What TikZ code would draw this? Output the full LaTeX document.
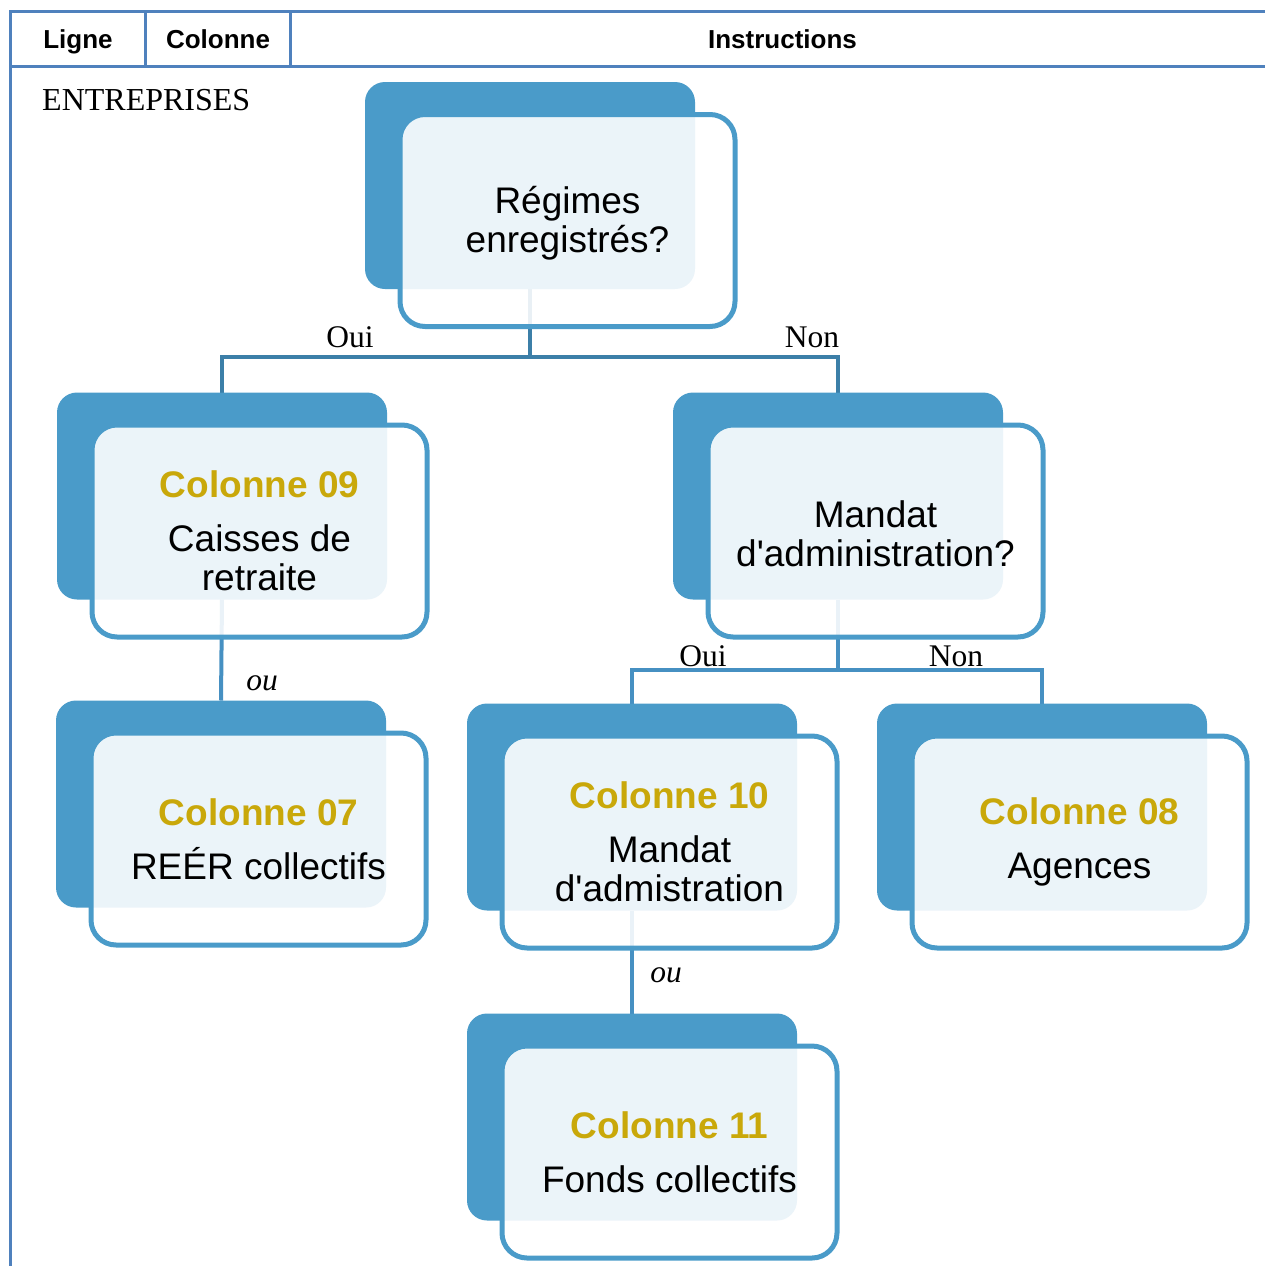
\documentclass[tikz,border=0pt]{standalone}
\usepackage{fontspec}
\setmainfont{Liberation Serif}
\setsansfont{Liberation Sans}
\usetikzlibrary{calc}
\definecolor{tbl}{HTML}{4F81BD}
\definecolor{dk}{HTML}{4A9BC9}
\definecolor{cA}{HTML}{3C7FA8}
\definecolor{cB}{HTML}{4690C2}
\definecolor{gold}{HTML}{C9A80A}
\pgfdeclarelayer{back}
\pgfsetlayers{back,main}
\tikzset{
  tblline/.style={draw=tbl, line width=3pt},
  hdr/.style={anchor=base, inner sep=0pt, font=\sffamily\bfseries\fontsize{26}{30}\selectfont},
  lbl/.style={anchor=base, inner sep=0pt, font=\fontsize{31.5}{36}\selectfont},
  darkbox/.style={rectangle, minimum width=330pt, minimum height=207pt, inner sep=0pt, outer sep=0pt, fill=dk, rounded corners=20pt},
  litebox/.style={rectangle, minimum width=335pt, minimum height=212pt, inner sep=0pt, outer sep=0pt,
    fill=white, fill opacity=0.89, text opacity=1, draw=dk, draw opacity=1, line width=5pt,
    rounded corners=25pt, align=center, font=\sffamily\fontsize{37}{39}\selectfont},
  connA/.style={draw=cA, line width=4pt},
  connB/.style={draw=cB, line width=4pt},
}
\newcommand\ttl[1]{\textcolor{gold}{\textbf{#1}}\\[15pt]}
\newcommand\apos{\textquotesingle}
\begin{document}
\begin{tikzpicture}[x=1pt,y=-1pt]
\useasboundingbox (0,0) rectangle (1265,1266);
% table frame
\draw[tblline] (10.5,10) -- (10.5,1266);
\draw[tblline] (9,11.5) -- (1265,11.5);
\draw[tblline] (9,66.5) -- (1265,66.5);
\draw[tblline] (145.7,11.5) -- (145.7,66.5);
\draw[tblline] (290.2,11.5) -- (290.2,66.5);
\node[hdr] (hL) at (78,48) {Ligne};
\node[hdr] (hC) at (218,48) {Colonne};
\node[hdr] (hI) at (782.5,48) {Instructions};
\node[anchor=base west, inner sep=0pt, font=\fontsize{32}{36}\selectfont] (ent) at (42,110) {ENTREPRISES};

% boxes
\node[darkbox] (R) at (530,185.5) {};
\node[litebox] (Rw) at ($(R)+(37.5,35)$) {\rule{0pt}{33pt}Régimes\\enregistrés?};

\node[darkbox] (C09) at (222,496) {};
\node[litebox] (C09w) at ($(C09)+(37.5,35)$) {\ttl{Colonne 09}Caisses de\\retraite};

\node[darkbox] (MA) at (838,496) {};
\node[litebox] (MAw) at ($(MA)+(37.5,35)$) {\rule{0pt}{33pt}Mandat\\d\apos administration?};

\node[darkbox] (C07) at (221,804) {};
\node[litebox] (C07w) at ($(C07)+(37.5,35)$) {\ttl{Colonne 07}REÉR collectifs};

\node[darkbox] (C10) at (632,807) {};
\node[litebox] (C10w) at ($(C10)+(37.5,35)$) {\ttl{Colonne 10}Mandat\\d\apos admistration};

\node[darkbox] (C08) at (1042,807) {};
\node[litebox] (C08w) at ($(C08)+(37.5,35)$) {\ttl{Colonne 08}Agences};

\node[darkbox] (C11) at (632,1117) {};
\node[litebox] (C11w) at ($(C11)+(37.5,35)$) {\ttl{Colonne 11}Fonds collectifs};

% connectors
\begin{pgfonlayer}{back}
\draw[connA] (R.south) -- ++(0,68) coordinate (jR);
\draw[connA] (jR) -| (C09.north);
\draw[connA] (jR) -| (MA.north);
\draw[connB] (C09.south) -- (C07.north);
\draw[connB] (MA.south) -- ++(0,70) coordinate (jM);
\draw[connB] (jM) -| (C10.north);
\draw[connB] (jM) -| (C08.north);
\draw[connB] (C10.south) -- (C11.north);
\end{pgfonlayer}

% labels
\node[lbl] (oui1) at (350,347) {Oui};
\node[lbl] (non1) at (812,347) {Non};
\node[lbl] (oui2) at (703,666) {Oui};
\node[lbl] (non2) at (956,666) {Non};
\node[lbl] (ou1) at (262,690) {\textit{ou}};
\node[lbl] (ou2) at (666,982) {\textit{ou}};
\end{tikzpicture}
\end{document}
